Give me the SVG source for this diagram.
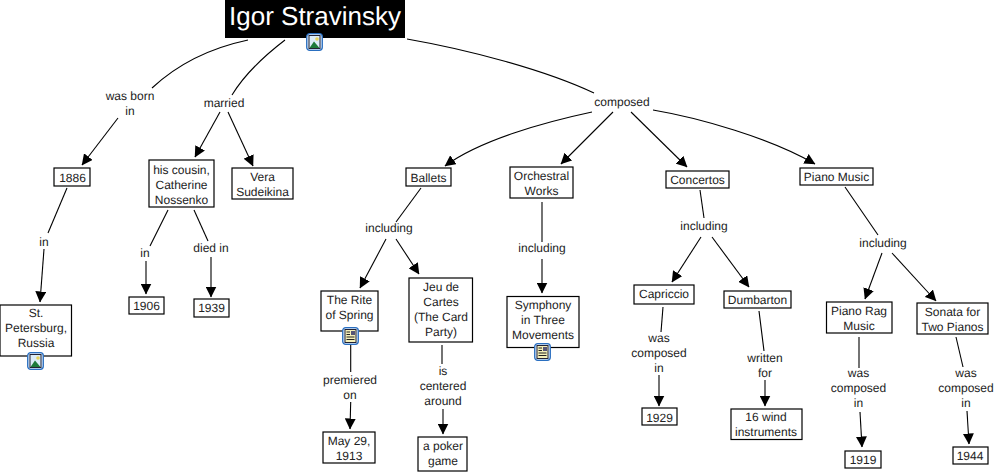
<svg xmlns="http://www.w3.org/2000/svg" width="997" height="473" viewBox="0 0 997 473">
<style>
text{font-family:"Liberation Sans",Arial,sans-serif;font-size:12px;fill:#222;text-anchor:middle;text-rendering:geometricPrecision}
.n rect.b{fill:#fff;stroke:#000;stroke-width:1.2}
#conn path{fill:none;stroke:#000;stroke-width:1.1}
</style>
<defs>
<marker id="a" viewBox="0 0 11 11" refX="10.500" refY="5.500" markerWidth="11" markerHeight="11" markerUnits="userSpaceOnUse" orient="auto"><path d="M0 0L11 5.500L0 11z" fill="#000"/></marker>
<g id="frame"><rect x="0.700" y="0.700" width="15.600" height="16.600" rx="3" fill="#d7e6fa" stroke="#2a6fc0" stroke-width="1.300"/></g>
<g id="img"><use href="#frame"/><rect x="3" y="2.500" width="11" height="13" fill="#dcecf7" stroke="#223"/><circle cx="11" cy="6" r="1.800" fill="#e8d25a"/><path d="M3.500 15L8 8.500L13.500 15z" fill="#1d7a3a"/></g>
<g id="doc"><use href="#frame"/><rect x="3" y="2.500" width="11" height="13" fill="#f4efb8" stroke="#223"/><rect x="9" y="4" width="4" height="4" fill="#557"/><path d="M4.500 5H8M4.500 7.500H8M4.500 10H12.500M4.500 12.500H12.500" stroke="#222" stroke-width="1"/></g>
</defs>
<g id="conn">
<path d="M248 40C215 47 180 62 152 88"/>
<path d="M118 118L82 165" marker-end="url(#a)"/>
<path d="M285 40C268 53 246 72 232 95"/>
<path d="M220 112L195 157" marker-end="url(#a)"/>
<path d="M228 112L253 166" marker-end="url(#a)"/>
<path d="M407 39C470 50 545 70 594 93"/>
<path d="M592 112C545 122 480 140 445 166" marker-end="url(#a)"/>
<path d="M613 112L561 164" marker-end="url(#a)"/>
<path d="M631 112L687 167" marker-end="url(#a)"/>
<path d="M653 110C700 118 770 138 815 164" marker-end="url(#a)"/>
<path d="M67 188L48 233"/>
<path d="M44 249L40 302" marker-end="url(#a)"/>
<path d="M168 210L150 246"/>
<path d="M146 261L146 294" marker-end="url(#a)"/>
<path d="M194 210L208 241"/>
<path d="M211 257L211 297" marker-end="url(#a)"/>
<path d="M421 188L396 222"/>
<path d="M386 239L360 288" marker-end="url(#a)"/>
<path d="M396 239L419 274" marker-end="url(#a)"/>
<path d="M542 202L542 242"/>
<path d="M542 259L542 293" marker-end="url(#a)"/>
<path d="M700 190L704 218"/>
<path d="M701 237L672 282" marker-end="url(#a)"/>
<path d="M712 237L749 287" marker-end="url(#a)"/>
<path d="M845 187L878 235"/>
<path d="M882 253L865 299" marker-end="url(#a)"/>
<path d="M892 253L936 301" marker-end="url(#a)"/>
<path d="M350.700 343L350.700 372"/>
<path d="M350.700 402L350 429" marker-end="url(#a)"/>
<path d="M442 345L442 364"/>
<path d="M443 409L443 434" marker-end="url(#a)"/>
<path d="M663 307L661 332"/>
<path d="M659 375L659 406" marker-end="url(#a)"/>
<path d="M759 311L764 351"/>
<path d="M765 380L765 406" marker-end="url(#a)"/>
<path d="M859 337L859 368"/>
<path d="M860 412L862 447" marker-end="url(#a)"/>
<path d="M956 337L963 367"/>
<path d="M967 411L969 444" marker-end="url(#a)"/>
</g>
<g id="root"><rect x="225" y="0" width="180" height="38" fill="#000"/><text x="315" y="25" style="font-size:26px;fill:#fff">Igor Stravinsky</text><use href="#img" x="306" y="33"/></g>
<g id="n1886" class="n"><rect class="b" x="54" y="168" width="36" height="18"/><text x="72.500" y="182">1886</text></g>
<g id="nCatherine" class="n"><rect class="b" x="149" y="160" width="65" height="47"/><text x="181.500" y="174">his cousin,</text><text x="181.500" y="189">Catherine</text><text x="181.500" y="204">Nossenko</text></g>
<g id="nVera" class="n"><rect class="b" x="232" y="168" width="61" height="31"/><text x="262.500" y="181">Vera</text><text x="262.500" y="196">Sudeikina</text></g>
<g id="nBallets" class="n"><rect class="b" x="406" y="168" width="45" height="18"/><text x="428.500" y="182">Ballets</text></g>
<g id="nOrch" class="n"><rect class="b" x="510" y="167" width="63" height="31"/><text x="541.500" y="180">Orchestral</text><text x="541.500" y="195">Works</text></g>
<g id="nConc" class="n"><rect class="b" x="666" y="171" width="63" height="17"/><text x="697.500" y="184">Concertos</text></g>
<g id="nPiano" class="n"><rect class="b" x="800" y="168" width="73" height="17"/><text x="836.500" y="181">Piano Music</text></g>
<g id="nStP" class="n"><rect class="b" x="0" y="305" width="71.500" height="51"/><text x="36" y="317">St.</text><text x="36" y="332">Petersburg,</text><text x="36" y="347">Russia</text><use href="#img" x="27" y="352"/></g>
<g id="n1906" class="n"><rect class="b" x="129" y="297" width="35" height="17"/><text x="146.500" y="310">1906</text></g>
<g id="n1939" class="n"><rect class="b" x="194" y="299" width="35" height="18"/><text x="211.500" y="312">1939</text></g>
<g id="nRite" class="n"><rect class="b" x="321" y="291" width="57" height="40"/><text x="349.500" y="304">The Rite</text><text x="349.500" y="319">of Spring</text><use href="#doc" x="342" y="327"/></g>
<g id="nJeu" class="n"><rect class="b" x="409" y="278" width="63.500" height="64"/><text x="441" y="291">Jeu de</text><text x="441" y="306">Cartes</text><text x="441" y="321">(The Card</text><text x="441" y="336">Party)</text></g>
<g id="nSym" class="n"><rect class="b" x="507" y="296.500" width="72" height="51"/><text x="543" y="309">Symphony</text><text x="543" y="324">in Three</text><text x="543" y="339">Movements</text><use href="#doc" x="534" y="343"/></g>
<g id="nCap" class="n"><rect class="b" x="634" y="285" width="60" height="19"/><text x="664" y="298">Capriccio</text></g>
<g id="nDum" class="n"><rect class="b" x="724" y="291" width="67" height="17"/><text x="757.500" y="304">Dumbarton</text></g>
<g id="nRag" class="n"><rect class="b" x="826.500" y="302" width="65.500" height="31"/><text x="859" y="315">Piano Rag</text><text x="859" y="330">Music</text></g>
<g id="nSon" class="n"><rect class="b" x="917" y="303" width="71" height="31"/><text x="952.500" y="316">Sonata for</text><text x="952.500" y="331">Two Pianos</text></g>
<g id="nMay" class="n"><rect class="b" x="323" y="432" width="52" height="31"/><text x="349" y="445">May 29,</text><text x="349" y="460">1913</text></g>
<g id="nPoker" class="n"><rect class="b" x="418" y="437" width="49" height="34"/><text x="443" y="450">a poker</text><text x="443" y="465">game</text></g>
<g id="n1929" class="n"><rect class="b" x="642" y="408" width="35" height="17"/><text x="659.500" y="422">1929</text></g>
<g id="nWind" class="n"><rect class="b" x="731" y="409" width="71" height="30.500"/><text x="766" y="421">16 wind</text><text x="766" y="436">instruments</text></g>
<g id="n1919" class="n"><rect class="b" x="845" y="451" width="36" height="17"/><text x="863" y="464">1919</text></g>
<g id="n1944" class="n"><rect class="b" x="953" y="447" width="35" height="17"/><text x="970" y="460">1944</text></g>
<g id="labels">
<text x="130" y="100">was born</text><text x="130" y="115">in</text>
<text x="224" y="107">married</text>
<text x="622" y="106">composed</text>
<text x="44" y="246">in</text>
<text x="145" y="257">in</text>
<text x="211" y="252">died in</text>
<text x="389" y="232">including</text>
<text x="542" y="252">including</text>
<text x="704" y="230">including</text>
<text x="883" y="247">including</text>
<text x="350" y="384">premiered</text><text x="350" y="399">on</text>
<text x="443" y="375">is</text><text x="443" y="390">centered</text><text x="443" y="405">around</text>
<text x="659" y="342">was</text><text x="659" y="357">composed</text><text x="659" y="372">in</text>
<text x="765" y="362">written</text><text x="765" y="377">for</text>
<text x="858.500" y="377">was</text><text x="858.500" y="392">composed</text><text x="858.500" y="407">in</text>
<text x="966" y="377">was</text><text x="966" y="392">composed</text><text x="966" y="407">in</text>
</g>
</svg>
